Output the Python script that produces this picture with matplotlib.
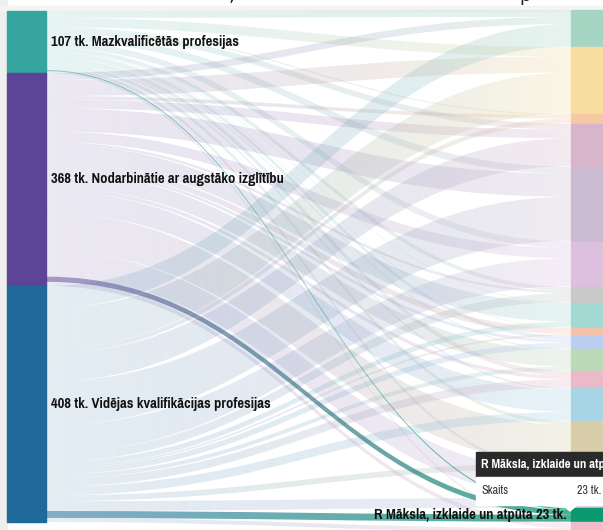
import numpy as np
import matplotlib
matplotlib.use('Agg')
import matplotlib.pyplot as plt
from matplotlib import font_manager as fm
from matplotlib.path import Path
from matplotlib.patches import PathPatch, Rectangle, Polygon
from matplotlib.colors import to_rgb

# --- data (tk. = thousands employed) ---
sources = ['Mazkvalificētās profesijas',
           'Nodarbinātie ar augstāko izglītību',
           'Vidējas kvalifikācijas profesijas']
source_colors = ['#36a59e', '#5c4597', '#1f6a9a']

targets = ['A Lauksaimniecība, mežsaimniecība un zivsaimniecība',
           'C Apstrādes rūpniecība',
           'D_E Elektroenerģija un ūdens apgāde',
           'F Būvniecība',
           'G Tirdzniecība',
           'H Transports un uzglabāšana',
           'I Izmitināšana un ēdināšana',
           'J Informācijas un komunikācijas pakalpojumi',
           'K Finanšu un apdrošināšanas darbības',
           'L Operācijas ar nekustamo īpašumu',
           'M Profesionālie, zinātniskie un tehniskie pakalpojumi',
           'N Administratīvo un apkalpojošo dienestu darbība',
           'O Valsts pārvalde un aizsardzība',
           'P Izglītība',
           'Q Veselība un sociālā aprūpe',
           'R Māksla, izklaide un atpūta',
           'S Citi pakalpojumi']
target_colors = ['#a6d5c3', '#f7dea0', '#f5caa2', '#d9b5cc', '#cbbbd0',
                 '#dcc0de', '#c9c9c9', '#a3d9d3', '#f2c2ab', '#bacff0',
                 '#bcd9b8', '#ebb9ca', '#a8d5e6', '#d9cea9', '#d8c4e0',
                 '#0a9a6e', '#f0bccb']

flow_low = [12, 16, 2, 10, 12, 11, 7, 1, 1, 6, 2, 8, 3, 6, 5, 2, 3]
flow_high = [12, 28, 6, 15, 40, 18, 4, 32, 10, 5, 28, 6, 38, 66, 44, 9, 7]
flow_mid = [39, 70, 8, 48, 76, 48, 15, 9, 3, 10, 7, 14, 15, 10, 17, 12, 7]

hover_target = 15  # R Māksla, izklaide un atpūta

flows = np.array([flow_low, flow_high, flow_mid], dtype=float)
src_tot = flows.sum(axis=1)
tgt_tot = flows.sum(axis=0)


# condensed font for the labels, if one is installed
def narrow_font(bold):
    best = None
    for f in fm.fontManager.ttflist:
        narrow = ('Narrow' in f.name or 'Condensed' in f.name
                  or str(f.stretch) in ('condensed', 'semi-condensed', '500', '600'))
        if not narrow:
            continue
        w = f.weight if isinstance(f.weight, int) else (700 if 'bold' in str(f.weight) else 400)
        if (w >= 600) != bold or 'italic' in str(f.style) or 'oblique' in str(f.style):
            continue
        if best is None or 'Narrow' in f.name:
            best = f.fname
    return best


bold_file = narrow_font(True)
reg_file = narrow_font(False)


def fp(size, bold=True):
    fn = bold_file if bold else reg_file
    if fn:
        return fm.FontProperties(fname=fn, size=size)
    return fm.FontProperties(family='DejaVu Sans', size=size * 0.82,
                             weight='bold' if bold else 'normal')


# --- layout (pixel coordinates) ---
W, H = 603, 530
scale = 511.0 / flows.sum()
lx0, lx1 = 7, 46
rx0, rx1 = 571, 611
gap_r = 0.7

fig = plt.figure(figsize=(W / 100, H / 100), dpi=100)
ax = fig.add_axes([0, 0, 1, 1])
ax.set_xlim(0, W)
ax.set_ylim(H, 0)
ax.axis('off')

# page frame
ax.add_patch(Rectangle((0, 0), 7, H, color='#efefef', zorder=0))
ax.add_patch(Rectangle((0, 6), W, 4, color='#f4f4f4', zorder=0))

src_top = 11 + scale * np.concatenate([[0], np.cumsum(src_tot)[:-1]])
tgt_top = 10 + scale * np.concatenate([[0], np.cumsum(tgt_tot)[:-1]]) + gap_r * np.arange(len(targets))


def link_path(y0a, y0b, y1a, y1b, xa=lx1, xb=rx0, c=0.45):
    d = (xb - xa) * c
    verts = [(xa, y0a), (xa + d, y0a), (xb - d, y1a), (xb, y1a),
             (xb, y1b), (xb - d, y1b), (xa + d, y0b), (xa, y0b), (xa, y0a)]
    codes = [Path.MOVETO, Path.CURVE4, Path.CURVE4, Path.CURVE4,
             Path.LINETO, Path.CURVE4, Path.CURVE4, Path.CURVE4, Path.CLOSEPOLY]
    return Path(verts, codes)


def gradient_link(path, c0, c1, a0, a1, z):
    n = 200
    t = np.linspace(0, 1, n)
    r0, r1 = np.array(to_rgb(c0)), np.array(to_rgb(c1))
    img = np.zeros((1, n, 4))
    img[0, :, :3] = r0 * (1 - t[:, None]) + r1 * t[:, None]
    img[0, :, 3] = a0 * (1 - t) + a1 * t
    patch = PathPatch(path, facecolor='none', edgecolor='none')
    ax.add_patch(patch)
    im = ax.imshow(img, extent=(lx1, rx0, H, 0), aspect='auto',
                   interpolation='bilinear', zorder=z)
    im.set_clip_path(patch)


links = []
for i in range(len(sources)):
    for j in range(len(targets)):
        v = flows[i, j]
        y0 = src_top[i] + scale * flows[i, :j].sum()
        y1 = tgt_top[j] + scale * flows[:i, j].sum()
        links.append((i, j, y0, y1, v))

for i, j, y0, y1, v in links:
    if j == hover_target:
        continue
    p = link_path(y0, y0 + v * scale, y1, y1 + v * scale)
    gradient_link(p, source_colors[i], target_colors[j], 0.12, 0.28, 1)

for i, j, y0, y1, v in links:
    if j != hover_target:
        continue
    p = link_path(y0, y0 + v * scale, y1, y1 + v * scale)
    gradient_link(p, source_colors[i], target_colors[j], 0.55, 0.75, 3)

# nodes
for i, name in enumerate(sources):
    h = src_tot[i] * scale
    ax.add_patch(Rectangle((lx0, src_top[i]), lx1 - lx0, h,
                           color=source_colors[i], zorder=4))
    ax.text(lx1 + 5, src_top[i] + h / 2, f'{int(src_tot[i])} tk. {name}',
            fontproperties=fp(11.4), color='#111111',
            va='center', ha='left', zorder=6)

for j, name in enumerate(targets):
    h = tgt_tot[j] * scale
    ax.add_patch(Rectangle((rx0, tgt_top[j]), rx1 - rx0, h,
                           color=target_colors[j], zorder=4))

hj = hover_target
ax.text(rx0 - 4, tgt_top[hj] + tgt_tot[hj] * scale / 2,
        f'{targets[hj]} {int(tgt_tot[hj])} tk.',
        fontproperties=fp(11.4), color='#111111',
        va='center', ha='right', zorder=6)

# title fragment cut off at the top
ax.text(229, 1, ',', fontsize=13, color='#222222', va='baseline', zorder=6)
ax.text(519, 1, 'p', fontsize=13, color='#222222', va='baseline', zorder=6)

# tooltip
tx, ty = 476, 452
ax.add_patch(Rectangle((tx, ty), W - tx, 25, color='#2a2a2a', zorder=8))
ax.add_patch(Rectangle((tx, ty + 25), W - tx, 28, color='white', zorder=8))
ax.add_patch(Polygon([(563, 505), (577, 505), (570, 511)], closed=True,
                     color='white', zorder=8))
ax.text(tx + 5, ty + 12.5, targets[hj], fontproperties=fp(10.0),
        color='white', va='center', ha='left', zorder=9)
ax.text(tx + 5, ty + 39, 'Skaits', fontproperties=fp(9.4, bold=False),
        color='#333333', va='center', ha='left', zorder=9)
ax.text(577, ty + 39, f'{int(tgt_tot[hj])} tk.', fontproperties=fp(9.4, bold=False),
        color='#333333', va='center', ha='left', zorder=9)

fig.savefig('out.png', dpi=100, facecolor='white')
